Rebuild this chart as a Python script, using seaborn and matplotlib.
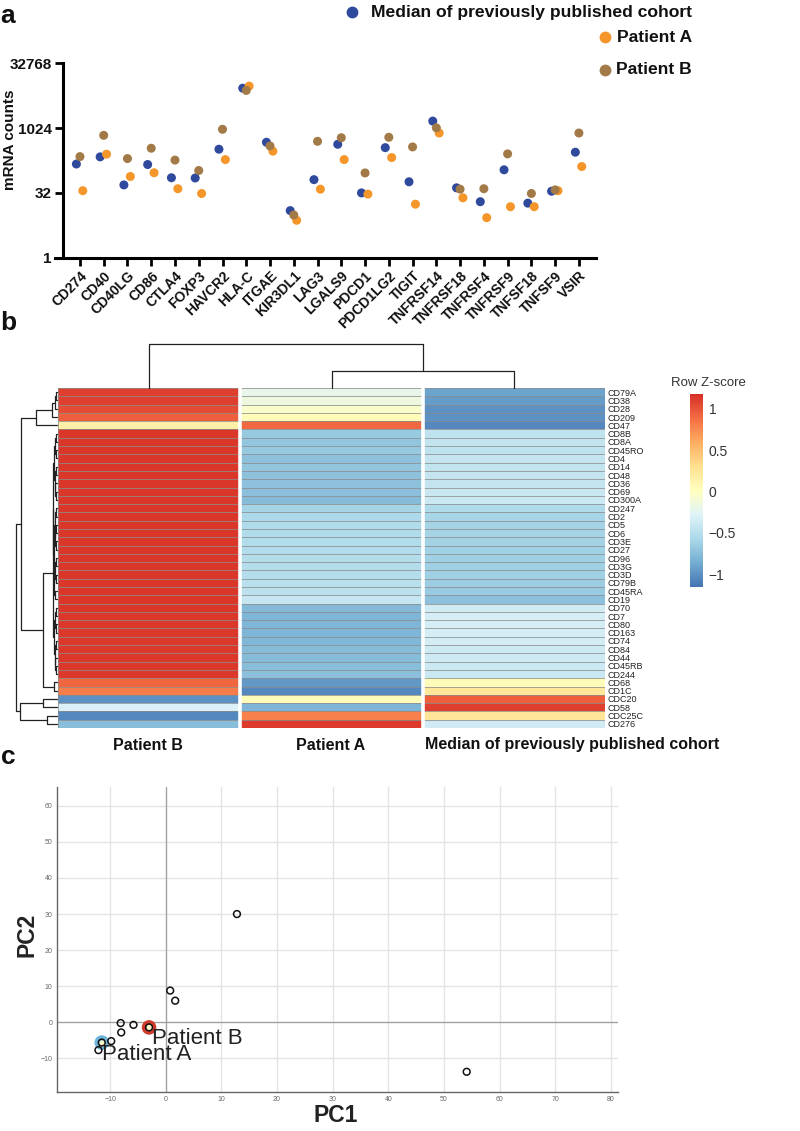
import numpy as np
import pandas as pd
import matplotlib.pyplot as plt
from matplotlib.lines import Line2D
from matplotlib.colors import LinearSegmentedColormap
import seaborn as sns

sns.set_theme(style="white")
plt.rcParams["font.family"] = ["Liberation Sans", "DejaVu Sans"]

# ---- panel a: checkpoint gene counts
genes = ["CD274", "CD40", "CD40LG", "CD86", "CTLA4", "FOXP3", "HAVCR2", "HLA-C",
         "ITGAE", "KIR3DL1", "LAG3", "LGALS9", "PDCD1", "PDCD1LG2", "TIGIT",
         "TNFRSF14", "TNFRSF18", "TNFRSF4", "TNFRSF9", "TNFSF18", "TNFSF9", "VSIR"]
median_cohort = [150, 220, 49, 146, 72, 71, 331, 8660, 480, 12.4, 65, 431, 32, 360,
                 58, 1490, 42, 20, 110, 18.5, 35, 282]
patient_a = [36, 254, 77, 94, 40, 31, 190, 9670, 298, 7.4, 39, 190, 30, 212,
             17.5, 787, 24.6, 8.5, 15.3, 15.3, 36, 131]
patient_b = [223, 695, 201, 349, 185, 106, 960, 7680, 394, 9.8, 505, 612, 93, 626,
             374, 1040, 39, 40, 258, 31, 37.6, 787]
series = ["Median of previously published cohort", "Patient A", "Patient B"]
series_colors = ["#2f4a9d", "#f5962a", "#a27a48"]

# ---- panel b: row z-scores (Patient B, Patient A, Median)
row_genes = ["CD79A", "CD38", "CD28", "CD209", "CD47", "CD8B", "CD8A", "CD45RO", "CD4",
             "CD14", "CD48", "CD36", "CD69", "CD300A", "CD247", "CD2", "CD5", "CD6",
             "CD3E", "CD27", "CD96", "CD3G", "CD3D", "CD79B", "CD45RA", "CD19", "CD70",
             "CD7", "CD80", "CD163", "CD74", "CD84", "CD44", "CD45RB", "CD244", "CD68",
             "CD1C", "CDC20", "CD58", "CDC25C", "CD276"]
z_patient_b = [1.10, 1.10, 1.05, 0.95, 0.15, 1.15, 1.15, 1.15, 1.15, 1.15, 1.15, 1.15,
               1.15, 1.15, 1.15, 1.15, 1.15, 1.15, 1.15, 1.15, 1.15, 1.15, 1.15, 1.15,
               1.15, 1.15, 1.15, 1.14, 1.14, 1.14, 1.14, 1.14, 1.14, 1.14, 1.14, 0.92,
               0.82, -1.00, -0.30, -1.05, -0.75]
z_patient_a = [-0.20, -0.15, -0.05, 0.05, 0.90, -0.68, -0.70, -0.68, -0.72, -0.70, -0.72,
               -0.72, -0.74, -0.76, -0.60, -0.56, -0.55, -0.55, -0.54, -0.53, -0.52,
               -0.52, -0.52, -0.50, -0.48, -0.42, -0.78, -0.80, -0.80, -0.80, -0.79,
               -0.76, -0.76, -0.75, -0.74, -0.97, -1.05, 0.05, -0.80, 0.80, 1.12]
z_median = [-0.90, -0.95, -1.00, -1.00, -1.05, -0.47, -0.45, -0.47, -0.43, -0.45, -0.43,
            -0.43, -0.41, -0.39, -0.55, -0.59, -0.60, -0.60, -0.61, -0.62, -0.63, -0.63,
            -0.63, -0.65, -0.67, -0.73, -0.37, -0.34, -0.34, -0.34, -0.35, -0.38, -0.38,
            -0.39, -0.40, 0.05, 0.23, 0.95, 1.10, 0.25, -0.37]
heat_columns = ["Patient B", "Patient A", "Median of previously published cohort"]
heat_colors = ["#4575b4", "#74add1", "#abd9e9", "#e0f3f8", "#ffffbf",
               "#fee090", "#fdae61", "#f46d43", "#d73027"]

# dendrograms as nested (height, left, right); leaves are row / column indices
sub1 = (2.5, (1.5, (1, 5, 6), (1, 7, 8)), (2, (1, 9, 10), (1.5, 11, (1, 12, 13))))
sub2 = (3, (2, (1, 14, 15), (1.5, (1, 16, 17), (1, 18, 19))),
        (2.5, (1.5, (1, 20, 21), (1, 22, 23)), (1.5, 24, 25)))
sub3 = (2.5, (1.5, (1, 26, 27), (1, 28, 29)), (2, (1, 30, 31), (1.5, 32, (1, 33, 34))))
top_block = (21, (5, (2, (1, 0, 1), 2), 3), 4)
mid_block = (14, (4, (3.5, sub1, sub2), sub3), (3, 35, 36))
low_block = (36.5, (14, 37, 38), (10, 39, 40))
row_tree = (41, (36, top_block, mid_block), low_block)
col_tree = (1.0, 0, (0.39, 1, 2))

# ---- panel c: PCA
pc1 = [12.8, 0.8, 1.7, -8.1, -5.8, -8.0, -3.0, -9.8, -11.5, -12.1, 54.1]
pc2 = [30.0, 8.8, 6.0, -0.2, -0.7, -2.8, -1.4, -5.2, -5.6, -7.7, -13.7]
patient_names = ["Patient A", "Patient B"]
patient_pc1 = [-11.5, -3.0]
patient_pc2 = [-5.6, -1.4]
patient_ring = ["#6cb6dd", "#cf3a2b"]

W, H = 800, 1131


def box(l, t, r, b):
    return [l / W, 1 - b / H, (r - l) / W, (b - t) / H]


def draw_tree(ax, node, orient):
    # returns (position, height) of node, draws the U links
    if not isinstance(node, tuple):
        return node + 0.5, 0.0
    h, left, right = node
    p1, h1 = draw_tree(ax, left, orient)
    p2, h2 = draw_tree(ax, right, orient)
    hs = [h1, h, h, h2]
    ps = [p1, p1, p2, p2]
    if orient == "left":
        ax.plot(hs, ps, color="#222222", lw=0.9, clip_on=False)
    else:
        ax.plot(ps, hs, color="#222222", lw=0.9, clip_on=False)
    return (p1 + p2) / 2, h


fig = plt.figure(figsize=(8, 11.31), dpi=100)

# ================= panel a
ax_a = fig.add_axes(box(55, 63.3, 596, 257.7))
offsets = [-0.15, 0.12, 0.0]
frames = []
for name, vals, off in zip(series, [median_cohort, patient_a, patient_b], offsets):
    frames.append(pd.DataFrame({"x": np.arange(len(genes)) + off,
                                "counts": vals, "group": name}))
df_a = pd.concat(frames, ignore_index=True)
sns.scatterplot(data=df_a, x="x", y="counts", hue="group", hue_order=series,
                palette=series_colors, s=42, edgecolor="none", legend=False,
                ax=ax_a, clip_on=False, zorder=3)
ax_a.set_yscale("log", base=2)
ax_a.set_ylim(1, 32768)
ax_a.set_xlim(-1.05, 21.72)
ax_a.spines["left"].set_position(("data", -0.72))
for s in ["top", "right"]:
    ax_a.spines[s].set_visible(False)
for s in ["left", "bottom"]:
    ax_a.spines[s].set_linewidth(2.2)
    ax_a.spines[s].set_color("black")
ax_a.set_yticks([1, 32, 1024, 32768])
ax_a.set_yticklabels(["1", "32", "1024", "32768"], fontweight="bold", fontsize=11)
ax_a.yaxis.set_minor_locator(plt.NullLocator())
ax_a.set_xticks(range(len(genes)))
ax_a.set_xticklabels(genes, rotation=45, ha="right", rotation_mode="anchor",
                     fontweight="bold", fontsize=10)
ax_a.tick_params(axis="both", which="major", bottom=True, left=True, length=6,
                 width=2, color="black", pad=2, labelcolor="#111111")
ax_a.set_xlabel("")
ax_a.set_ylabel("")
fig.text(10 / W, 1 - 140 / H, "mRNA counts", rotation=90, ha="center", va="center",
         fontweight="bold", fontsize=11, color="#111111")

legend_y = [12, 37, 70]
legend_dot_x = [352, 605, 605]
for name, col, ly, lx in zip(series, series_colors, legend_y, legend_dot_x):
    fig.text(692 / W, 1 - ly / H, name, ha="right", va="center",
             fontweight="bold", fontsize=12.6, color="#111111")
    fig.add_artist(Line2D([lx / W], [1 - ly / H], marker="o", ms=8.5, color=col,
                          mec="none", transform=fig.transFigure))

# ================= panel b
zdf = pd.DataFrame({"Patient B": z_patient_b, "Patient A": z_patient_a,
                    "Median of previously published cohort": z_median},
                   index=row_genes)[heat_columns]
heat_cmap = LinearSegmentedColormap.from_list("rowz", heat_colors)
ax_h = fig.add_axes(box(58, 388, 605, 728))
ax_cb = fig.add_axes(box(690, 394, 703, 587))
sns.heatmap(zdf, cmap=heat_cmap, vmin=-1.155, vmax=1.18, linewidths=0.5,
            linecolor=(0.55, 0.55, 0.55, 0.75), cbar_ax=ax_cb, xticklabels=False,
            yticklabels=True, ax=ax_h)
for xv in [1, 2]:
    ax_h.axvline(xv, color="white", lw=2.6)
ax_h.yaxis.tick_right()
ax_h.tick_params(axis="y", length=0, pad=2, labelsize=6.5, rotation=0,
                 labelcolor="#222222")
ax_h.set_ylabel("")
ax_h.set_xlabel("")
for name, xc, ha in zip(heat_columns, [148, 331, 425], ["center", "center", "left"]):
    fig.text(xc / W, 1 - 745 / H, name, ha=ha, va="center", fontweight="bold",
             fontsize=11.5, color="#111111")

cb = ax_h.collections[0].colorbar
cb.set_ticks([-1, -0.5, 0, 0.5, 1])
cb.set_ticklabels(["\u22121", "\u22120.5", "0", "0.5", "1"])
cb.outline.set_visible(False)
ax_cb.tick_params(length=0, labelsize=10, pad=4, labelcolor="#333333")
fig.text(708 / W, 1 - 383 / H, "Row Z-score", ha="center", va="center",
         fontsize=9.5, color="#333333")

ax_rd = fig.add_axes(box(15, 388, 57, 728))
draw_tree(ax_rd, row_tree, "left")
ax_rd.set_ylim(len(row_genes), 0)
ax_rd.set_xlim(41.5, 0)
ax_rd.axis("off")

ax_cd = fig.add_axes(box(58, 344, 605, 388))
draw_tree(ax_cd, col_tree, "top")
ax_cd.set_xlim(0, 3)
ax_cd.set_ylim(0, 1.0)
ax_cd.axis("off")

# ================= panel c
ax_c = fig.add_axes(box(56.7, 787, 618, 1092))
sns.scatterplot(x=patient_pc1, y=patient_pc2, hue=patient_names,
                palette=patient_ring, s=110, linewidth=0, legend=False, ax=ax_c,
                zorder=3)
sns.scatterplot(x=patient_pc1, y=patient_pc2, color="#fbf3c8", s=22, linewidth=0,
                legend=False, ax=ax_c, zorder=4)
sns.scatterplot(x=pc1, y=pc2, s=24, legend=False, ax=ax_c, zorder=5)
pts = ax_c.collections[-1]
pts.set_facecolor("none")
pts.set_edgecolor("#111111")
pts.set_linewidth(1.1)

ax_c.set_xlim(-19.6, 81.3)
ax_c.set_ylim(-19.3, 65.2)
ax_c.set_xticks(range(-10, 81, 10))
ax_c.set_yticks(range(-10, 61, 10))
ax_c.grid(True, color="#e4e4e4", lw=1)
ax_c.axhline(0, color="#a0a0a0", lw=0.9, zorder=1)
ax_c.axvline(0, color="#a0a0a0", lw=0.9, zorder=1)
ax_c.set_axisbelow(True)
for s in ["top", "right"]:
    ax_c.spines[s].set_visible(False)
for s in ["left", "bottom"]:
    ax_c.spines[s].set_color("#666666")
    ax_c.spines[s].set_linewidth(1)
ax_c.tick_params(length=0, labelsize=5, labelcolor="#666666", pad=3)
ax_c.set_xlabel("")
ax_c.set_ylabel("")
for name, tx, ty in zip(patient_names, [102, 152], [1055, 1038]):
    fig.text(tx / W, 1 - ty / H, name, ha="left", va="center", fontsize=16,
             color="#222222")
fig.text(336 / W, 1 - 1116 / H, "PC1", ha="center", va="center", fontsize=16.5,
         fontweight="bold", color="#222222")
fig.text(27 / W, 1 - 935 / H, "PC2", ha="center", va="center", fontsize=16.5,
         fontweight="bold", color="#222222", rotation=90)

# panel letters
for letter, ly in zip(["a", "b", "c"], [16, 323, 757]):
    fig.text(8 / W, 1 - ly / H, letter, ha="center", va="center", fontsize=19,
             fontweight="bold", color="#111111")

fig.savefig("out.png", dpi=100)
